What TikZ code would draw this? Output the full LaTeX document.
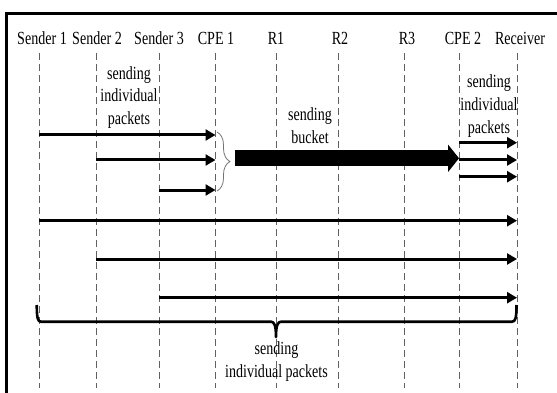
\documentclass[tikz,border=0pt]{standalone}
\usepackage{fontspec}
\setmainfont{Liberation Serif}[FakeStretch=0.76]
\usetikzlibrary{arrows.meta,decorations.pathreplacing}
\begin{document}
\begin{tikzpicture}[x=1pt,y=-1pt,
  lbl/.style={font=\fontsize{18.5}{23}\selectfont, inner sep=0pt, align=center},
  life/.style={draw=black!62, line width=1pt, dash pattern=on 7pt off 4pt},
  msg/.style={line width=3pt, -{Triangle[length=10pt,width=11pt]}},
  bucket/.style={line width=16pt, -{Triangle[length=11pt,width=27pt]}},
  groupbrace/.style={decorate, decoration={brace, amplitude=13pt},
    draw=black!55, line width=0.8pt},
  bottombrace/.style={line width=2.6pt, line join=round},
  ]
\useasboundingbox (0,0) rectangle (557,393);

% frame
\draw[line width=3pt, line join=miter] (6.5,393) -- (6.5,13.3) -- (557,13.3);

% participants and their lifelines
\foreach \n/\x/\lx/\t in {s1/39.4/42/Sender 1, s2/96/97/Sender 2,
    s3/159/159/Sender 3, c1/215.5/216/CPE 1, r1/276/276/R1,
    r2/338/340/R2, r3/404/407/R3, c2/459/463/CPE 2, rc/517/520/Receiver} {
  \node[lbl, anchor=base] (h\n) at (\lx,45) {\t};
  \coordinate (\n) at (\x,53);
  \coordinate (\n b) at (\x,388);
  \draw[life] (\n) -- (\n b);
}

% message rows
\coordinate (y1) at (0,135);
\coordinate (y2) at (0,160);
\coordinate (y3) at (0,190);
\coordinate (z1) at (0,142.7);
\coordinate (z2) at (0,160);
\coordinate (z3) at (0,176.7);
\coordinate (w1) at (0,220.7);
\coordinate (w2) at (0,259);
\coordinate (w3) at (0,297.7);
\coordinate (yb) at (0,158.3);

% senders to CPE 1
\draw[msg] (s1 |- y1) -- (c1 |- y1);
\draw[msg] (s2 |- y2) -- (c1 |- y2);
\draw[msg] (s3 |- y3) -- (c1 |- y3);

% grouping brace at CPE 1
\coordinate (gb1) at (217,132);
\coordinate (gb2) at (217,191);
\draw[groupbrace] (gb1) -- (gb2);

% bucket from CPE 1 to CPE 2
\coordinate (bk) at (235,158.3);
\draw[bucket] (bk) -- (c2 |- yb);

% CPE 2 to receiver
\draw[msg] (c2 |- z1) -- (rc |- z1);
\draw[msg] (c2 |- z2) -- (rc |- z2);
\draw[msg] (c2 |- z3) -- (rc |- z3);

% direct senders to receiver
\draw[msg] (s1 |- w1) -- (rc |- w1);
\draw[msg] (s2 |- w2) -- (rc |- w2);
\draw[msg] (s3 |- w3) -- (rc |- w3);

% bottom brace
\draw[bottombrace] (36.7,305) .. controls (37,318) and (37.5,321.7) .. (41,321.7)
  -- (271,321.7) .. controls (274.5,321.7) and (276,326) .. (276,337)
  .. controls (276,326) and (277.5,321.7) .. (281,321.7)
  -- (512,321.7) .. controls (515.5,321.7) and (516.5,318) .. (516.5,305);

% labels (base anchor sits on the last line)
\node[lbl, anchor=base] (tl) at (129,125) {sending\\individual\\packets};
\node[lbl, anchor=base] (tb) at (310,143) {sending\\bucket};
\node[lbl, anchor=base] (tr) at (489,134) {sending\\individual\\packets};
\node[lbl, anchor=base] (tm) at (276.5,377) {sending\\individual packets};
\end{tikzpicture}
\end{document}
